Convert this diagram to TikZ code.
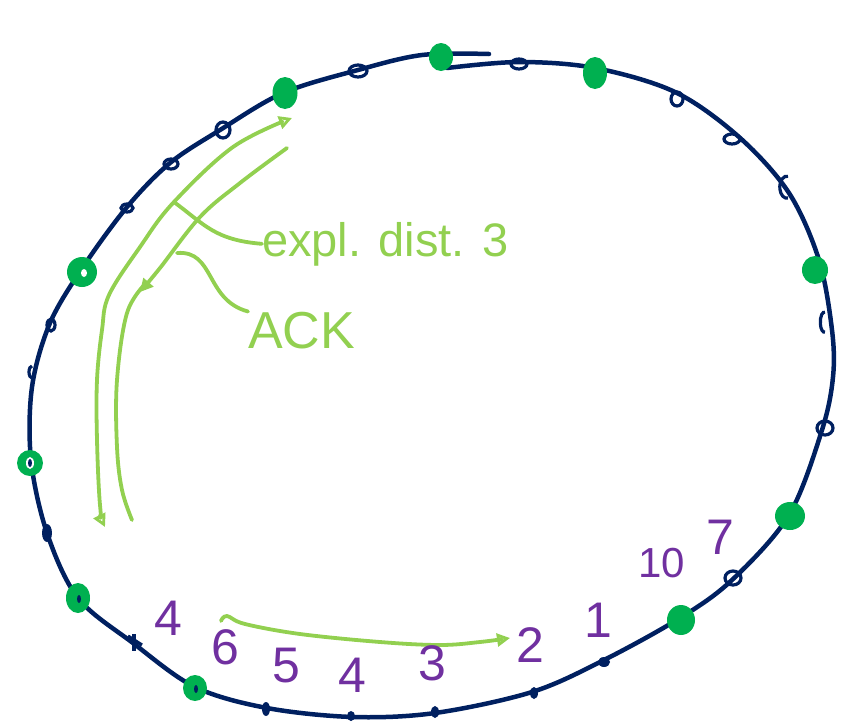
\documentclass[tikz,border=0pt]{standalone}
\usepackage{fontspec}
\setmainfont{Liberation Sans}
\usetikzlibrary{arrows.meta}
\definecolor{navy}{RGB}{0,32,96}
\definecolor{dotgreen}{RGB}{0,176,80}
\definecolor{lgreen}{RGB}{146,208,80}
\definecolor{purp}{RGB}{112,48,160}
\tikzset{gtip/.tip={Triangle[open,length=13pt,width=13pt,line width=2.8pt]}}
\begin{document}
\begin{tikzpicture}[x=1pt,y=-1pt,
  ring/.style={draw=navy,line width=4.5pt,line cap=round},
  loopmark/.style={draw=navy,line width=3.2pt},
  dotmark/.style={fill=navy},
  gdot/.style={fill=dotgreen},
  garrow/.style={draw=lgreen,line width=3.8pt,line cap=round,line join=round},
  num/.style={text=purp,font=\fontsize{50}{50}\selectfont,inner sep=0pt},
  glabel/.style={text=lgreen,inner sep=0pt}
]
\useasboundingbox (0,0) rectangle (844,724);
% main ring
\draw[ring] plot[smooth,tension=0.55] coordinates {(447,68) (519,62) (595,68) (675,92) (739,137) (789,193) (819,260) (832,330) (833,377) (822,430) (789,515) (732,580) (680,618) (604,660) (532,692) (435,713) (353,717) (267,708) (195,687) (133,643) (78,598) (47,533) (31,460) (32,387) (50,323) (83,267) (127,207) (170,163) (220,130) (283,93) (358,70) (422,55) (489,54)};
% small navy loops on the ring
\draw[loopmark] (358,71) ellipse[x radius=9,y radius=6];
\draw[loopmark] (223,130) ellipse[x radius=7,y radius=8];
\draw[loopmark] (171,164) ellipse[x radius=7,y radius=5];
\draw[loopmark] (127,208) ellipse[x radius=6,y radius=4];
\draw[loopmark] (51,325) ellipse[x radius=4,y radius=6];
\draw[loopmark] (519,64) ellipse[x radius=8,y radius=5];
\draw[loopmark] (677,99) ellipse[x radius=6,y radius=7];
\draw[loopmark] (732,139) ellipse[x radius=8,y radius=5];
\draw[loopmark] (788,198) arc[start angle=80,end angle=280,x radius=7,y radius=11];
\draw[loopmark] (825,332) arc[start angle=80,end angle=280,x radius=4,y radius=10];
\draw[loopmark] (825,428) ellipse[x radius=8,y radius=7];
\draw[loopmark] (733,578) ellipse[x radius=8,y radius=7];
\draw[loopmark] (32,378) arc[start angle=90,end angle=270,x radius=3,y radius=6];
% small navy dots on the ring
\fill[dotmark] (604,662) ellipse[x radius=6,y radius=5];
\fill[dotmark] (534,693) ellipse[x radius=4,y radius=6];
\fill[dotmark] (435,712) ellipse[x radius=4,y radius=6];
\fill[dotmark] (351,716) ellipse[x radius=4,y radius=5];
\fill[dotmark] (266,709) ellipse[x radius=4,y radius=7];
\fill[dotmark] (47,533) ellipse[x radius=5,y radius=9];
\draw[loopmark] (128,636) -- (142,645);
\draw[loopmark] (134,634) -- (134,651);
% green dots
\fill[gdot] (441,57) ellipse[x radius=12,y radius=14];
\fill[gdot] (285,93) ellipse[x radius=12.5,y radius=16];
\fill[gdot] (595,73) ellipse[x radius=12,y radius=16];
\fill[gdot] (815,270) ellipse[x radius=13,y radius=14];
\fill[gdot] (82,272) ellipse[x radius=15,y radius=15];
\fill[gdot] (30,463) ellipse[x radius=13,y radius=13];
\fill[gdot] (78,598) ellipse[x radius=12,y radius=15];
\fill[gdot] (195,688) ellipse[x radius=12,y radius=13];
\fill[gdot] (790,516) ellipse[x radius=15,y radius=14];
\fill[gdot] (681,620) ellipse[x radius=14,y radius=15];
\fill[white] (84,273) ellipse[x radius=3,y radius=4];
\fill[white] (30,463) ellipse[x radius=4,y radius=6];
\fill[navy] (30,463) ellipse[x radius=2,y radius=4];
\fill[navy] (79,599) ellipse[x radius=2,y radius=4];
\fill[navy] (196,689) ellipse[x radius=2,y radius=4];
% green arrows
\draw[garrow,gtip-gtip] plot[smooth,tension=0.6] coordinates {(105,527) (100,505) (97,440) (97,380) (102,330) (109,295) (140,247) (173,203) (233,147) (292,118)};
\draw[garrow,-gtip] plot[smooth,tension=0.6] coordinates {(287,148) (240,183) (200,217) (160,268) (140,292)};
\draw[garrow] plot[smooth,tension=0.6] coordinates {(146,283) (127,313) (117,380) (117,447) (122,490) (132,520)};
\draw[garrow,-gtip] plot[smooth,tension=0.6] coordinates {(221,621) (227,616) (245,624) (300,634) (380,642) (440,645) (480,642) (510,638)};
% labels
\node[glabel,anchor=base west,font=\fontsize{47}{47}\selectfont] (expl) at (262,256) {expl. dist. 3};
\node[glabel,anchor=base west,font=\fontsize{52}{52}\selectfont] (ack) at (248,348) {ACK};
\coordinate (explfoot) at (174,202);
\coordinate (ackfoot) at (177,253);
\draw[garrow] (explfoot) .. controls (205,225) and (215,240) .. (expl.west);
\draw[garrow] (ackfoot) .. controls (215,250) and (205,300) .. (ack.north west);
% purple numbers
\node[num] (n4a) at (168,618) {4};
\node[num] (n6) at (225,647) {6};
\node[num] (n5) at (286,666) {5};
\node[num] (n4b) at (352,675) {4};
\node[num] (n3) at (432,663) {3};
\node[num] (n2) at (530,645) {2};
\node[num] (n1) at (598,620) {1};
\node[num,font=\fontsize{42}{42}\selectfont] (n10) at (662,563) {10};
\node[num] (n7) at (720,537) {7};
\end{tikzpicture}
\end{document}
